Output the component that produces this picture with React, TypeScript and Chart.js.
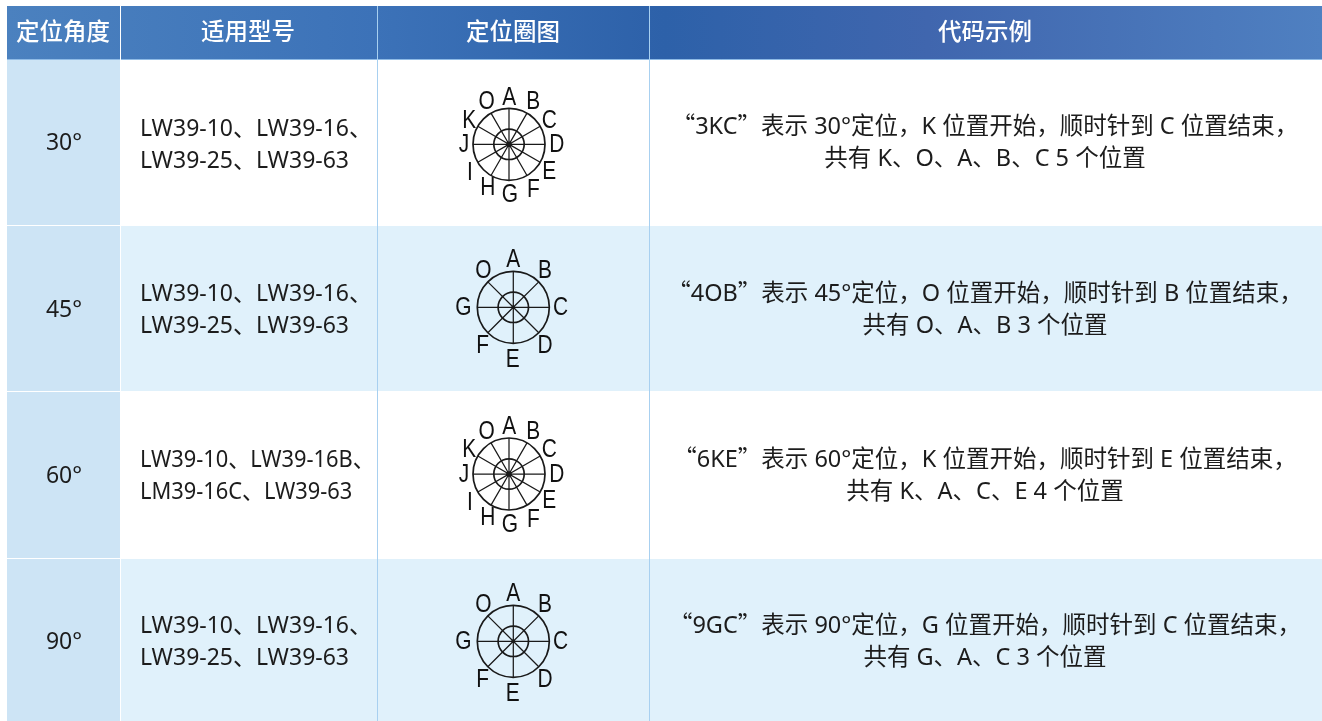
import React, { useEffect, useRef } from "react";
import { Chart, registerables } from "chart.js";

Chart.register(...registerables);

// ---------- content ----------
const headers = ["定位角度", "适用型号", "定位圈图", "代码示例"];
const angles = ["30°", "45°", "60°", "90°"];
const models = [
  ["LW39-10、LW39-16、", "LW39-25、LW39-63"],
  ["LW39-10、LW39-16、", "LW39-25、LW39-63"],
  ["LW39-10、LW39-16B、", "LM39-16C、LW39-63"],
  ["LW39-10、LW39-16、", "LW39-25、LW39-63"],
];
const examples = [
  ["“3KC”表示 30°定位，K 位置开始，顺时针到 C 位置结束，", "共有 K、O、A、B、C 5 个位置"],
  ["“4OB”表示 45°定位，O 位置开始，顺时针到 B 位置结束，", "共有 O、A、B 3 个位置"],
  ["“6KE”表示 60°定位，K 位置开始，顺时针到 E 位置结束，", "共有 K、A、C、E 4 个位置"],
  ["“9GC”表示 90°定位，G 位置开始，顺时针到 C 位置结束，", "共有 G、A、C 3 个位置"],
];
const spokeCounts = [12, 8, 12, 8];
const dialLetters12 = ["A", "O", "B", "K", "C", "J", "D", "I", "E", "H", "G", "F"];
const dialLetters8 = ["A", "O", "B", "G", "C", "F", "D", "E"];

// ---------- layout (axis units are the picture's pixels) ----------
const WIDTH = 1322;
const HEIGHT = 721;
const columnEdges = [7, 120, 121, 377, 649, 1322];
const headerBand = [6, 58.5];
const rowBands = [
  [60, 225],
  [226, 391],
  [392, 558],
  [559, 721],
];
const rowCentres = [145, 310.5, 476.5, 642.5];
const exampleCentres = [142, 309, 475, 641];
const headerCentres = [63, 248, 513, 985];
const modelStretch = [1, 1, 0.95, 1];
const dialCentres = [
  [509, 144.3],
  [513.3, 307.3],
  [509, 474],
  [513.3, 641.3],
];
const letterOffsets12 = [
  [0.3, -46.6], [-22.3, -42], [24.3, -42], [-39.7, -23.6], [40.3, -23.6], [-45, 0.7],
  [47.7, 0.7], [-39, 29], [40.3, 27.4], [-21.3, 44], [1, 50.7], [24.3, 45.7],
];
const letterOffsets8 = [
  [0, -47.3], [-30, -36.7], [31.7, -36.7], [-50, 0.3], [47.3, 0.3], [-30.7, 38.7], [31.7, 38.7], [-0.5, 52.5],
];
const OUTER_R = 36;
const INNER_R = 15.2;

// ---------- colours ----------
const headerStops: [number, string][] = [
  [0, "#4b81bf"],
  [0.28, "#3c72b8"],
  [0.5, "#2d61a9"],
  [0.7, "#4066ae"],
  [1, "#4f80c1"],
];
const leftCell = "#cde4f5";
const stripeCell = "#e0f1fb";
const plainCell = "#ffffff";
const gridLine = "#a8d0f0";
const ink = "#1c1c1c";
const dialInk = "#1a1a1a";

const LATIN = '"Noto Sans", "Noto Sans CJK SC", sans-serif';
const FULL = '"Noto Sans CJK SC", sans-serif';

function spokeStar(cx: number, cy: number, n: number) {
  const pts: { x: number; y: number }[] = [];
  for (let i = 0; i < n; i++) {
    const a = (i * 2 * Math.PI) / n;
    pts.push({ x: cx, y: cy });
    pts.push({ x: cx + OUTER_R * Math.sin(a), y: cy - OUTER_R * Math.cos(a) });
  }
  pts.push({ x: cx, y: cy });
  return pts;
}

const tablePlugin = {
  id: "tableText",
  afterDatasetsDraw(chart: any) {
    const { ctx, scales } = chart;
    const X = (v: number) => scales.x.getPixelForValue(v);
    const Y = (v: number) => scales.y.getPixelForValue(v);
    const put = (t: string, x: number, y: number, font: string, color: string, align: CanvasTextAlign = "center", sx = 1) => {
      ctx.save();
      ctx.font = font;
      ctx.fillStyle = color;
      ctx.textAlign = align;
      ctx.textBaseline = "middle";
      ctx.translate(X(x), Y(y));
      ctx.scale(sx, 1);
      ctx.fillText(t, 0, 0);
      ctx.restore();
    };
    // centred line whose curly quotes take the full-width CJK glyph
    const putRuns = (t: string, x: number, y: number, size: number) => {
      const runs = t.split(/([“”])/).filter(Boolean);
      ctx.save();
      ctx.textBaseline = "alphabetic";
      ctx.textAlign = "left";
      ctx.fillStyle = ink;
      const fontOf = (r: string) => `${size}px ${r === "“" || r === "”" ? FULL : LATIN}`;
      const widths = runs.map((r) => {
        ctx.font = fontOf(r);
        return ctx.measureText(r).width;
      });
      let px = X(x) - widths.reduce((a, b) => a + b, 0) / 2;
      const base = Y(y) + size * 0.35;
      runs.forEach((r, i) => {
        ctx.font = fontOf(r);
        ctx.fillText(r, px, base);
        px += widths[i];
      });
      ctx.restore();
    };
    headers.forEach((h, i) => put(h, headerCentres[i], 33, `500 23.5px ${LATIN}`, "#ffffff"));
    rowCentres.forEach((c, r) => {
      put(angles[r], 64, exampleCentres[r] + 1, `23px ${LATIN}`, ink);
      models[r].forEach((l, k) => put(l, 140, c - 16 + k * 32, `23px ${LATIN}`, ink, "left", modelStretch[r]));
      examples[r].forEach((l, k) => putRuns(l, 985, exampleCentres[r] - 16 + k * 32, 23.5));
      const [cx, cy] = dialCentres[r];
      const twelve = spokeCounts[r] === 12;
      const letters = twelve ? dialLetters12 : dialLetters8;
      const offs = twelve ? letterOffsets12 : letterOffsets8;
      letters.forEach((t, i) =>
        put(t, cx + offs[i][0], cy + offs[i][1], `25.5px "Liberation Sans", sans-serif`, "#111111", "center", 0.82)
      );
    });
  },
};

export default function App() {
  const ref = useRef<HTMLCanvasElement>(null);
  useEffect(() => {
    const canvas = ref.current!;
    const lineSet = (data: any[], color: string, width: number) => ({
      type: "scatter",
      data,
      showLine: true,
      borderColor: color,
      borderWidth: width,
      pointRadius: 0,
      order: 0,
      clip: false,
    });
    const ringSet = (data: any[], r: number, fill: string, bw: number) => ({
      type: "scatter",
      data,
      pointRadius: r,
      pointBackgroundColor: fill,
      pointBorderColor: dialInk,
      pointBorderWidth: bw,
      order: 0,
      clip: false,
    });
    const barSet = (data: any[], thickness: number, color: any) => ({
      type: "bar",
      indexAxis: "y",
      data,
      barThickness: thickness,
      grouped: false,
      backgroundColor: color,
      borderWidth: 0,
      inflateAmount: 0,
      order: 1,
    });
    const gradient = (c: any) => {
      const g = c.chart.ctx.createLinearGradient(columnEdges[0], 0, WIDTH, 0);
      headerStops.forEach(([p, col]) => g.addColorStop(p, col));
      return g;
    };
    const datasets: any[] = [];
    // dials
    dialCentres.forEach(([x, y], r) => {
      datasets.push(ringSet([{ x, y }], spokeCounts[r] === 12 ? 2.6 : 1.8, dialInk, 0));
      datasets.push(ringSet([{ x, y }], INNER_R, "rgba(0,0,0,0)", 1.7));
      datasets.push(ringSet([{ x, y }], OUTER_R, "rgba(0,0,0,0)", 1.7));
      datasets.push(lineSet(spokeStar(x, y, spokeCounts[r]), dialInk, 1.25));
    });
    // rules
    [377.5, 649.5].forEach((x) => {
      datasets.push(lineSet([{ x, y: headerBand[0] }, { x, y: HEIGHT }], gridLine, 1));
    });
    datasets.push(lineSet([{ x: columnEdges[2], y: 59.5 }, { x: WIDTH, y: 59.5 }], "#8fbbe6", 1));
    datasets.push(lineSet([{ x: columnEdges[0], y: 59.5 }, { x: columnEdges[1], y: 59.5 }], "#8fbbe6", 1));
    // header
    datasets.push(barSet([{ x: [columnEdges[2], WIDTH], y: (headerBand[0] + headerBand[1] + 1) / 2 }], headerBand[1] - headerBand[0] + 1, gradient));
    datasets.push(barSet([{ x: [columnEdges[0], columnEdges[1]], y: (headerBand[0] + headerBand[1] + 1) / 2 }], headerBand[1] - headerBand[0] + 1, gradient));
    // body cells
    rowBands.forEach(([a, b], r) => {
      const h = b - a;
      const mid = (a + b) / 2;
      datasets.push(barSet([{ x: [columnEdges[0], columnEdges[1]], y: mid }], h, leftCell));
      datasets.push(barSet([{ x: [columnEdges[2], WIDTH], y: mid }], h, r % 2 ? stripeCell : plainCell));
    });
    const chart = new Chart(canvas, {
      type: "bar",
      data: { datasets },
      plugins: [tablePlugin],
      options: {
        animation: false,
        responsive: false,
        maintainAspectRatio: false,
        layout: { padding: 0, autoPadding: false },
        events: [],
        plugins: { legend: { display: false }, tooltip: { enabled: false }, title: { display: false } },
        scales: {
          x: { type: "linear", min: 0, max: WIDTH, display: false, offset: false },
          y: { type: "linear", min: 0, max: HEIGHT, reverse: true, display: false, offset: false },
        },
      },
    } as any);
    return () => chart.destroy();
  }, []);
  return (
    <div style={{ position: "absolute", left: 0, top: 0, width: WIDTH, height: HEIGHT, overflow: "hidden", background: "#fff" }}>
      <canvas ref={ref} width={WIDTH} height={HEIGHT} style={{ display: "block" }} />
    </div>
  );
}
